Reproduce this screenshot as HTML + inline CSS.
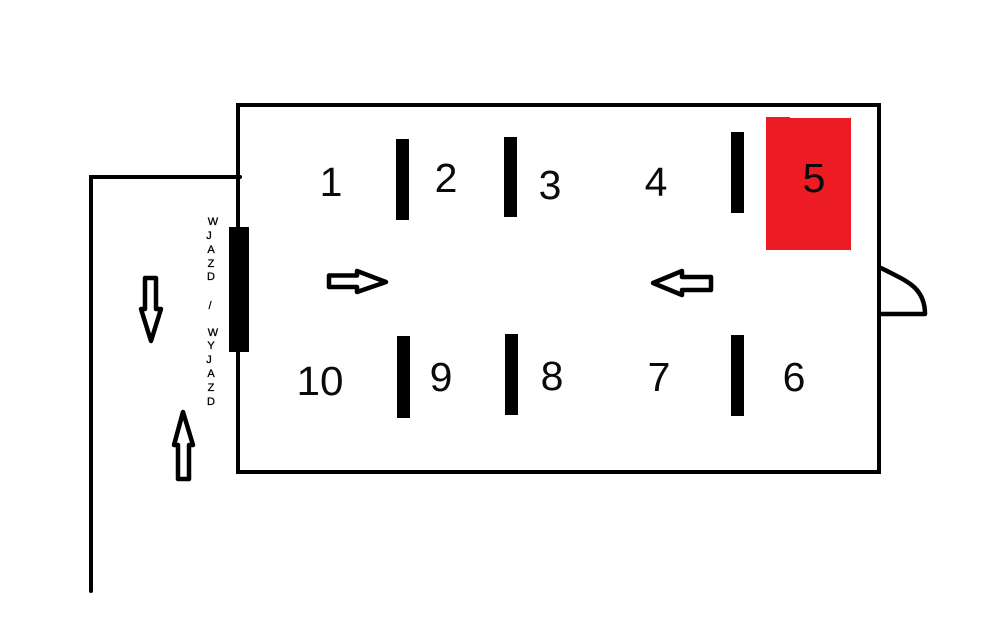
<!DOCTYPE html>
<html>
<head>
<meta charset="utf-8">
<style>
html,body{margin:0;padding:0;background:#fff;width:1000px;height:628px;overflow:hidden}
svg{display:block}
.n{font-family:"Liberation Sans",sans-serif;font-size:41px;fill:#0a0a0a;text-anchor:middle}
.s{font-family:"Liberation Sans",sans-serif;font-size:11px;fill:#000;stroke:#000;stroke-width:.3;text-anchor:middle}
</style>
</head>
<body>
<svg width="1000" height="628" viewBox="0 0 1000 628" xmlns="http://www.w3.org/2000/svg">
<rect x="766" y="118" width="85" height="132" fill="#ED1C24"/>
<rect x="766" y="117" width="24" height="1" fill="#ED1C24"/>
<rect x="238" y="105" width="641" height="367" fill="none" stroke="#000" stroke-width="4"/>
<path d="M240 177H91V591" fill="none" stroke="#000" stroke-width="4" stroke-linecap="round"/>
<rect x="229" y="227" width="20" height="125" fill="#000"/>
<g fill="#000">
<rect x="396" y="139" width="13" height="81"/>
<rect x="504" y="137" width="13" height="80"/>
<rect x="731" y="132" width="13" height="81"/>
<rect x="397" y="336" width="13" height="82"/>
<rect x="505" y="334" width="13" height="81"/>
<rect x="731" y="335" width="13" height="81"/>
</g>
<g fill="none" stroke="#000" stroke-width="4.5" stroke-linejoin="round" stroke-linecap="round">
<path d="M145 278H156V309H161L151 341L141 309H145Z"/>
<path d="M178 479H189V445H193L183 412L174 445H178Z"/>
<path d="M329 275.500H357V271L386 282L357 292V287H329Z"/>
<path d="M711 277H682V271L653 283L682 295V290H711Z"/>
<path d="M881 268C895 275 908 281 915 288C922 295 925 304 925 314H881"/>
</g>
<text class="n" x="331" y="196">1</text>
<text class="n" x="446" y="192">2</text>
<text class="n" x="550" y="199">3</text>
<text class="n" x="656" y="196">4</text>
<text class="n" x="814" y="192">5</text>
<text class="n" x="794" y="391">6</text>
<text class="n" x="659" y="391">7</text>
<text class="n" x="552" y="390">8</text>
<text class="n" x="441" y="391">9</text>
<text class="n" x="320" y="395" textLength="47" lengthAdjust="spacingAndGlyphs">10</text>
<text class="s" x="213" y="225">W</text>
<text class="s" x="209" y="239">J</text>
<text class="s" x="211" y="253">A</text>
<text class="s" x="211" y="267">Z</text>
<text class="s" x="211" y="280">D</text>
<text class="s" x="210" y="309">/</text>
<text class="s" x="213" y="336">W</text>
<text class="s" x="211" y="349">Y</text>
<text class="s" x="209" y="363">J</text>
<text class="s" x="211" y="377">A</text>
<text class="s" x="211" y="391">Z</text>
<text class="s" x="211" y="405">D</text>
</svg>
</body>
</html>
